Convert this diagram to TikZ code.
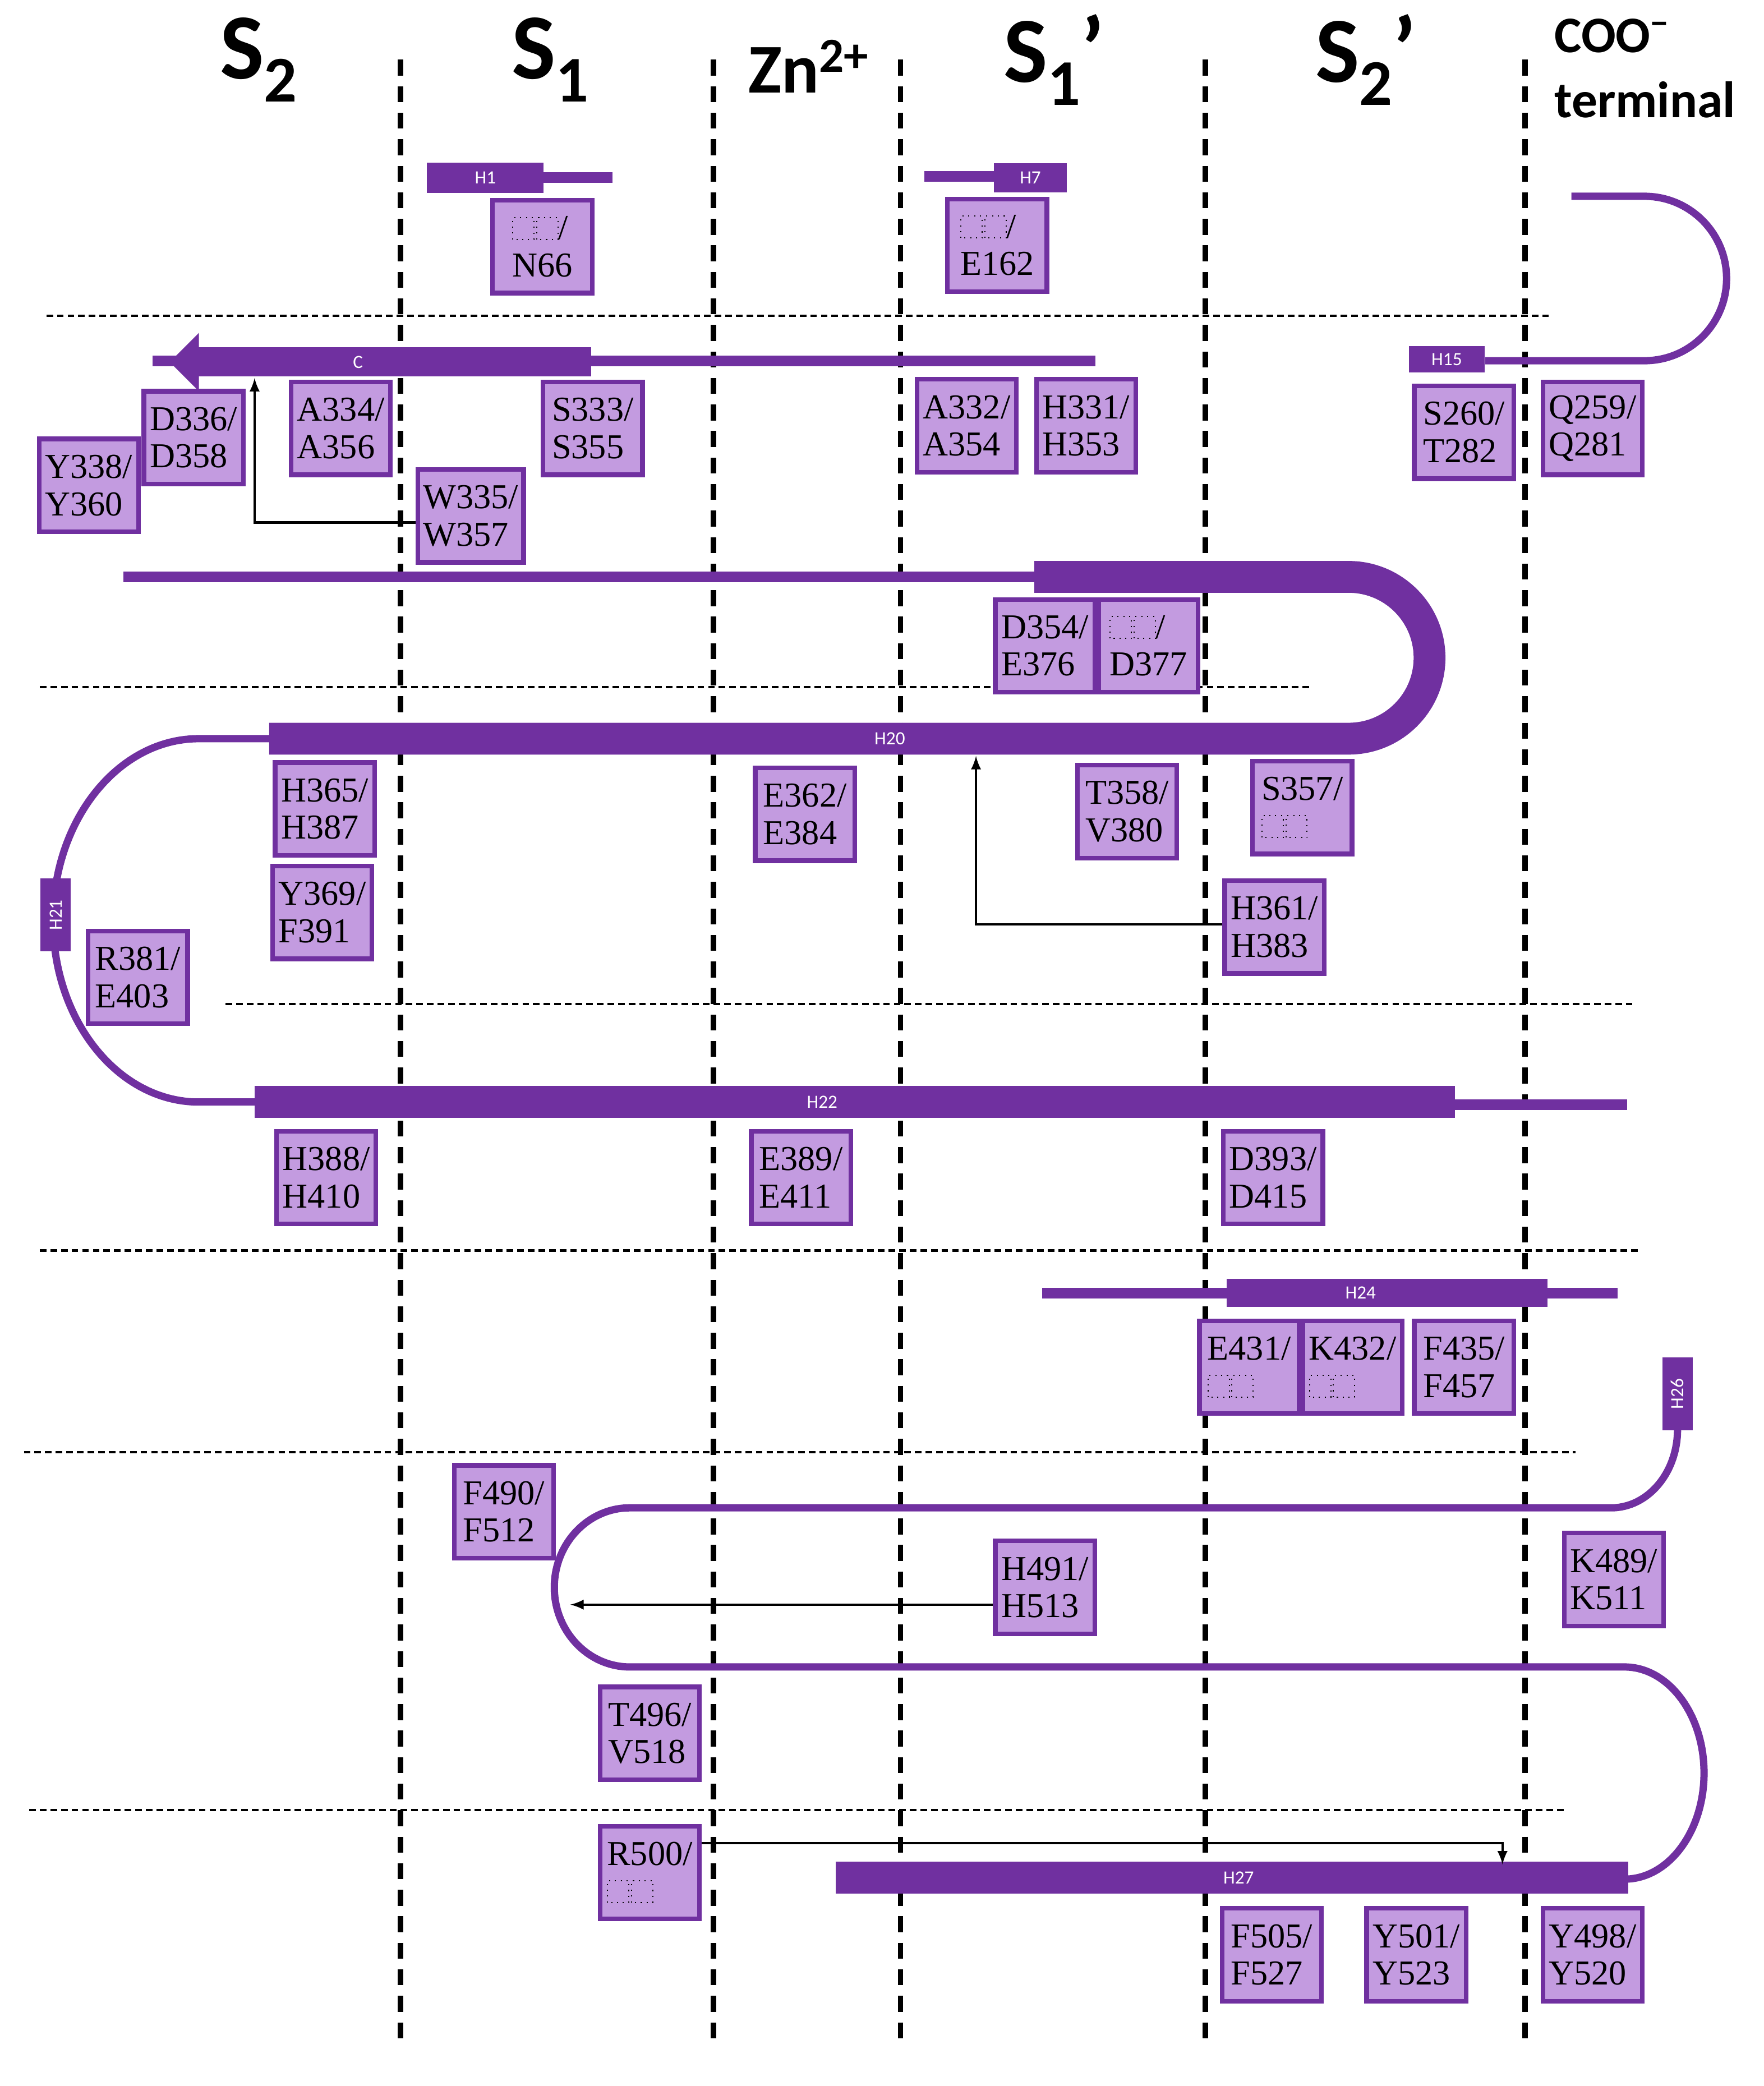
\documentclass[tikz,border=0pt]{standalone}
\usepackage{fontspec}
\setmainfont{Liberation Serif}
\newfontfamily\hdr{Carlito}
\definecolor{pp}{HTML}{7030A0}
\definecolor{lp}{HTML}{C39BE0}
\newcommand{\bx}{\tikz[baseline=0pt,x=1mm,y=1mm]{\draw[dotted,line width=0.5pt] (0,0) rectangle (3.2,3.3) (3.6,0) rectangle (6.8,3.3);}}
\begin{document}
\begin{tikzpicture}[x=0.2mm,y=-0.2mm,
  box/.style={draw=pp,line width=0.7mm,fill=lp,minimum width=15mm,minimum height=14mm,align=left,inner sep=0.8mm,font=\fontsize{15}{16}\selectfont},
  vd/.style={line width=0.8mm,dash pattern=on 2.4mm off 1.6mm},
  hd/.style={line width=0.35mm,dash pattern=on 1mm off 0.6mm},
  thin/.style={pp,line width=1.6mm},
  thick/.style={pp,line width=4.8mm},
  lbl/.style={text=white,font=\hdr\fontsize{8}{8}\selectfont,inner sep=0},
  hx/.style={fill=pp,inner sep=0,text=white,font=\hdr\fontsize{8}{8}\selectfont},
  arr/.style={-latex,line width=0.35mm}]
\useasboundingbox (0,0) rectangle (1330,1573);
% dashed lines
\foreach \x in {302,538,679,909,1150} \draw[vd] (\x,45) -- (\x,1545);
\draw[hd] (35,238) -- (1168,238);
\draw[hd] (30,518) -- (990,518);
\draw[hd] (170,757) -- (1232,757);
\draw[hd] (30,943) -- (1237,943);
\draw[hd] (18,1095) -- (1188,1095);
\draw[hd] (22,1365) -- (1180,1365);
% headers
\node[font=\hdr\bfseries\fontsize{40}{40}\selectfont] (hS2) at (195,45) {S\raisebox{-0.25em}{\fontsize{28}{28}\selectfont 2}};
\node[font=\hdr\bfseries\fontsize{40}{40}\selectfont] (hS1) at (415,45) {S\raisebox{-0.25em}{\fontsize{28}{28}\selectfont 1}};
\node[font=\hdr\bfseries\fontsize{30}{30}\selectfont] (hZn) at (610,50) {Zn\textsuperscript{2+}};
\node[font=\hdr\bfseries\fontsize{40}{40}\selectfont] (hS1p) at (795,45) {S\raisebox{-0.25em}{\fontsize{28}{28}\selectfont 1}’};
\node[font=\hdr\bfseries\fontsize{40}{40}\selectfont] (hS2p) at (1030,45) {S\raisebox{-0.25em}{\fontsize{28}{28}\selectfont 2}’};
\node[font=\hdr\bfseries\fontsize{22}{28}\selectfont,align=left,anchor=north west] (hC) at (1166,8) {COO\textsuperscript{−}\\terminal};
% H1, H7
\draw[thin] (410,134) -- (462,134);
\node[hx,minimum width=17.6mm,minimum height=4.6mm] (H1) at (366,134) {H1};
\draw[thin] (697,133) -- (750,133);
\node[hx,minimum width=11mm,minimum height=4.4mm] (H7) at (777,134) {H7};
% top right loop
\draw[pp,line width=1.1mm] (1185,148) -- (1240,148) arc[start angle=-90,end angle=90,radius=62] -- (1120,272);
\node[hx,minimum width=11.4mm,minimum height=4mm] (H15) at (1091,271) {H15};
% strand C
\draw[thin] (115,272) -- (826,272);
\draw[pp,line width=4.4mm] (149,273) -- (446,273);
\fill[pp] (128,273) -- (150,251) -- (150,295) -- cycle;
\node[lbl] (Cl) at (270,273) {C};
% H20 region
\draw[thin] (93,435) -- (780,435);
\draw[thick] (780,435) -- (1017,435) arc[start angle=-90,end angle=90,radius=61] -- (203,557);
\node[lbl] (H20) at (671,557) {H20};
\draw[pp,line width=1.1mm] (205,557) -- (150,557) arc[start angle=-90,end angle=-270,x radius=110,y radius=137] -- (192,831);
\node[hx,minimum width=4.6mm,minimum height=11mm] (H21) at (42,690) {\rotatebox{90}{H21}};
\draw[thick] (192,831) -- (1097,831);
\draw[thin] (1097,833) -- (1227,833);
\node[lbl] (H22) at (620,831) {H22};
% H24
\draw[thin] (786,975) -- (1220,975);
\draw[pp,line width=4.2mm] (925,975) -- (1167,975);
\node[lbl] (H24) at (1026,975) {H24};
% lower loops
\draw[pp,line width=1.1mm] (1265,1078) arc[start angle=0,end angle=90,x radius=50,y radius=59] -- (475,1137) arc[start angle=-90,end angle=-270,x radius=57,y radius=60] -- (1225,1257) arc[start angle=-90,end angle=90,x radius=60,y radius=80];
\node[hx,minimum width=4.6mm,minimum height=11mm] (H26) at (1265,1051) {\rotatebox{90}{H26}};
\draw[thick] (630,1416) -- (1228,1416);
\node[lbl] (H27) at (934,1416) {H27};
% boxes
\node[box] (N66) at (409,186) {\bx/\\N66};
\node[box] (E162) at (752,185) {\bx/\\E162};
\node[box] (Y338) at (67,366) {Y338/\\Y360};
\node[box] (D336) at (146,330) {D336/\\D358};
\node[box] (A334) at (257,323) {A334/\\A356};
\node[box] (W335) at (355,389) {W335/\\W357};
\node[box] (S333) at (447,323) {S333/\\S355};
\node[box] (A332) at (729,321) {A332/\\A354};
\node[box] (H331) at (819,321) {H331/\\H353};
\node[box] (S260) at (1104,326) {S260/\\T282};
\node[box] (Q259) at (1201,323) {Q259/\\Q281};
\node[box] (D354) at (788,487) {D354/\\E376};
\node[box] (D377) at (866,487) {\bx/\\D377};
\node[box] (H365) at (245,610) {H365/\\H387};
\node[box] (Y369) at (243,688) {Y369/\\F391};
\node[box] (E362) at (607,614) {E362/\\E384};
\node[box] (T358) at (850,612) {T358/\\V380};
\node[box] (S357) at (982,609) {S357/\\\bx};
\node[box] (H361) at (961,699) {H361/\\H383};
\node[box] (R381) at (104,737) {R381/\\E403};
\node[box] (H388) at (246,888) {H388/\\H410};
\node[box] (E389) at (604,888) {E389/\\E411};
\node[box] (D393) at (960,888) {D393/\\D415};
\node[box] (E431) at (942,1031) {E431/\\\bx};
\node[box] (K432) at (1020,1031) {K432/\\\bx};
\node[box] (F435) at (1104,1031) {F435/\\F457};
\node[box] (F490) at (380,1140) {F490/\\F512};
\node[box] (H491) at (788,1197) {H491/\\H513};
\node[box] (K489) at (1217,1191) {K489/\\K511};
\node[box] (T496) at (490,1307) {T496/\\V518};
\node[box] (R500) at (490,1412) {R500/\\\bx};
\node[box] (F505) at (959,1474) {F505/\\F527};
\node[box] (Y501) at (1068,1474) {Y501/\\Y523};
\node[box] (Y498) at (1201,1474) {Y498/\\Y520};
% arrows
\coordinate (c1) at (192,285);
\coordinate (c2) at (736,570);
\coordinate (c3) at (430,1210);
\coordinate (c4) at (1133,1406);
\draw[arr] (W335.west |- 0,394) -| (c1);
\draw[arr] (H361.west |- 0,697) -| (c2);
\draw[arr] (H491.west |- 0,1210) -- (c3);
\draw[arr] (R500.east |- 0,1390) -| (c4);
\end{tikzpicture}
\end{document}
